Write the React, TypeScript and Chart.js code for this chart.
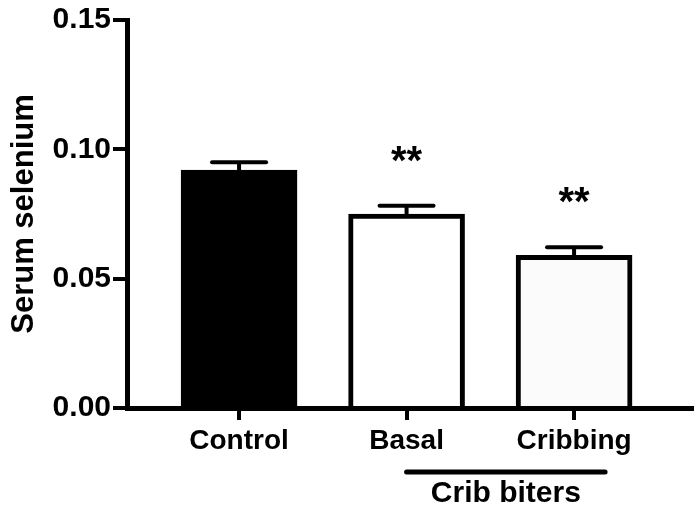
import React, { useEffect, useRef } from "react";
import { Chart, registerables } from "chart.js";

Chart.register(...registerables);

const categories = ["Control", "Basal", "Cribbing"];
const means = [0.092, 0.075, 0.059];
const sems = [0.003, 0.0032, 0.0031];
const significance = ["", "**", "**"];
const groupLabel = "Crib biters";
const groupMembers = [1, 2];
const yTicks = [0, 0.05, 0.1, 0.15];
const fills = ["#000000", "#ffffff", "#fbfbfb"];
const yTitle = "Serum selenium";

const FONT = "'Liberation Sans', Arial, Helvetica, sans-serif";

const annotPlugin = {
  id: "annot",
  afterDraw(chart: any) {
    const { ctx, scales } = chart;
    const x = scales.x;
    const y = scales.y;
    ctx.save();
    ctx.strokeStyle = "#000";
    ctx.fillStyle = "#000";
    ctx.lineWidth = 4;
    means.forEach((m, i) => {
      const cx = x.getPixelForValue(i);
      const y0 = y.getPixelForValue(m);
      const y1 = y.getPixelForValue(m + sems[i]);
      ctx.lineCap = "butt";
      ctx.beginPath();
      ctx.moveTo(cx, y0);
      ctx.lineTo(cx, y1);
      ctx.stroke();
      ctx.lineCap = "round";
      ctx.beginPath();
      ctx.moveTo(cx - 27, y1);
      ctx.lineTo(cx + 27, y1);
      ctx.stroke();
      if (significance[i]) {
        ctx.font = `bold 40px ${FONT}`;
        ctx.textAlign = "center";
        ctx.textBaseline = "alphabetic";
        ctx.fillText(significance[i], cx, y1 - 32);
      }
    });
    // group bracket
    const gx0 = x.getPixelForValue(groupMembers[0]);
    const gx1 = x.getPixelForValue(groupMembers[groupMembers.length - 1]) + 31;
    const gy = 472;
    ctx.lineWidth = 5;
    ctx.lineCap = "round";
    ctx.beginPath();
    ctx.moveTo(gx0, gy);
    ctx.lineTo(gx1, gy);
    ctx.stroke();
    ctx.font = `bold 30px ${FONT}`;
    ctx.textAlign = "center";
    ctx.textBaseline = "alphabetic";
    ctx.fillText(groupLabel, (gx0 + gx1) / 2, 502);
    ctx.restore();
  },
};

export default function App() {
  const ref = useRef<HTMLCanvasElement | null>(null);
  useEffect(() => {
    document.body.style.margin = "0";
    const canvas = ref.current;
    if (!canvas) return;
    const chart = new Chart(canvas, {
      type: "bar",
      data: {
        datasets: [
          {
            data: means.map((m, i) => ({ x: i, y: m })) as any,
            backgroundColor: fills,
            borderColor: "#000",
            borderWidth: 5,
            barThickness: 116,
            borderSkipped: "start",
          },
        ],
      },
      options: {
        animation: false,
        responsive: false,
        devicePixelRatio: 1,
        layout: { padding: { top: 20, right: 5, left: 0, bottom: 0 } },
        plugins: { legend: { display: false }, tooltip: { enabled: false } },
        scales: {
          x: {
            type: "linear",
            offset: false,
            min: -0.669,
            max: 2.704,
            afterBuildTicks: (s: any) => {
              s.ticks = categories.map((_, i) => ({ value: i }));
            },
            afterFit: (s: any) => {
              s.height = 107;
            },
            ticks: {
              callback: (v: any) => categories[v] ?? "",
              color: "#000",
              font: { family: FONT, size: 28, weight: "bold" },
              padding: 4,
              maxRotation: 0,
              autoSkip: false,
            },
            grid: {
              display: true,
              offset: false,
              drawOnChartArea: false,
              drawTicks: true,
              tickLength: 12,
              lineWidth: 4,
              color: "#000",
            },
            border: { display: true, width: 5, color: "#000" },
          },
          y: {
            type: "linear",
            min: 0,
            max: 0.15,
            afterBuildTicks: (s: any) => {
              s.ticks = yTicks.map((v) => ({ value: v }));
            },
            afterFit: (s: any) => {
              s.width = 127;
            },
            ticks: {
              callback: (v: any) => Number(v).toFixed(2),
              color: "#000",
              font: { family: FONT, size: 30, weight: "bold" },
              padding: 2,
            },
            grid: {
              display: true,
              drawOnChartArea: false,
              drawTicks: true,
              tickLength: 14,
              lineWidth: 4,
              color: "#000",
            },
            border: { display: true, width: 5, color: "#000" },
            title: {
              display: true,
              text: yTitle,
              color: "#000",
              font: { family: FONT, size: 31, weight: "bold" },
              padding: { top: 6, bottom: 0 },
            },
          },
        },
      },
      plugins: [annotPlugin],
    });
    return () => chart.destroy();
  }, []);
  return (
    <div style={{ width: 697, height: 515 }}>
      <canvas ref={ref} width={697} height={515} style={{ width: 697, height: 515, display: "block" }} />
    </div>
  );
}
